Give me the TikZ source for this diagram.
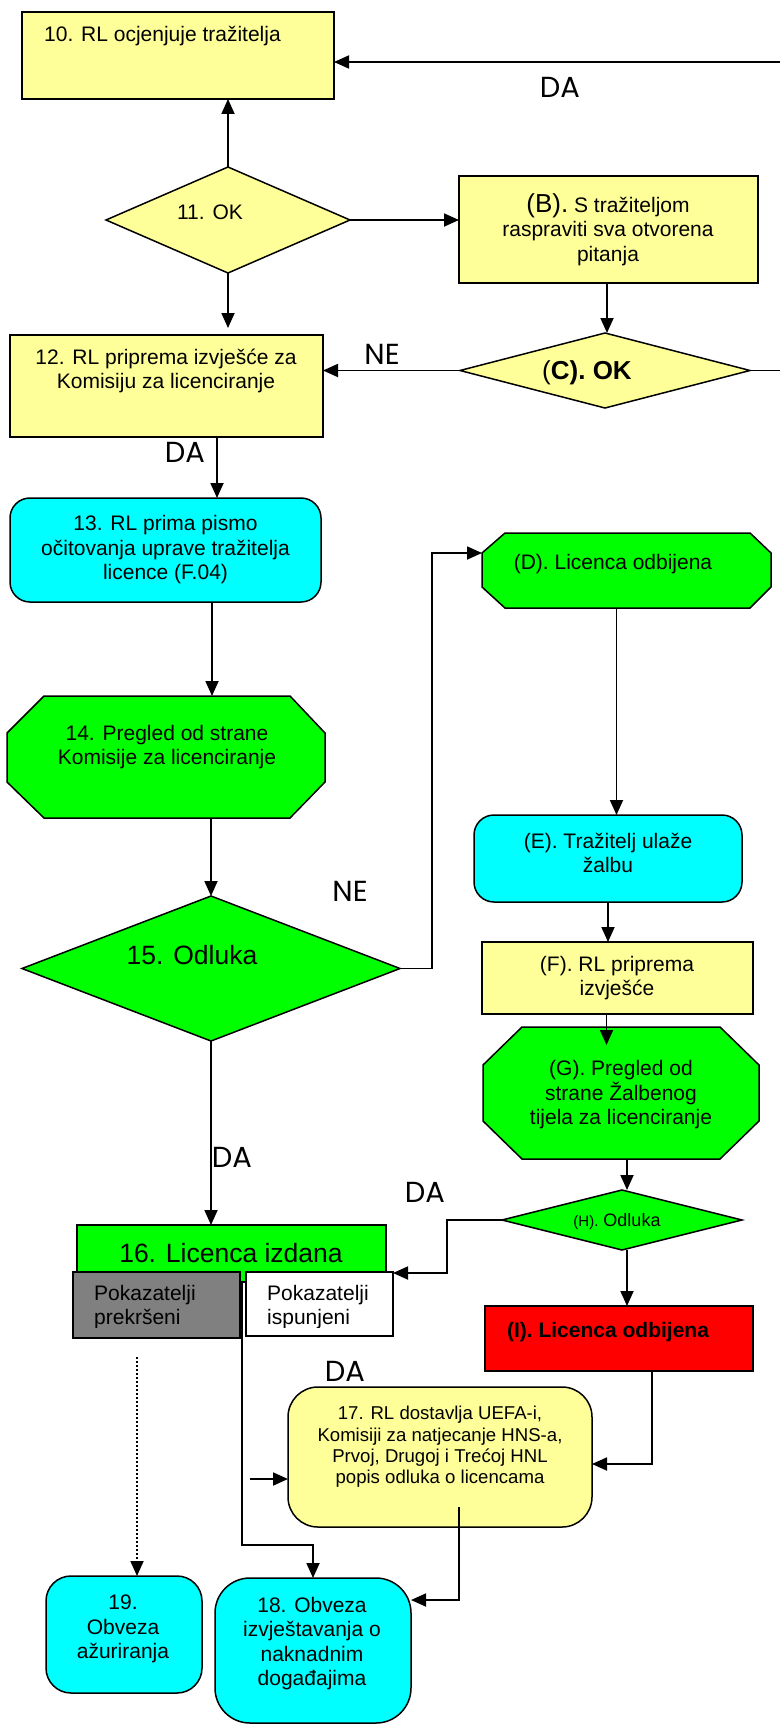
\documentclass[tikz,border=0pt]{standalone}
\usepackage{fontspec}
\setmainfont{Liberation Sans}
\newfontfamily\lblfont{Poppins}
\usetikzlibrary{arrows.meta,shapes.geometric,calc}
\definecolor{cyel}{HTML}{FFFF99}
\definecolor{ccyan}{HTML}{00FFFF}
\definecolor{cgreen}{HTML}{00FF00}
\definecolor{cred}{HTML}{FF0000}
\definecolor{cgray}{HTML}{808080}
\begin{document}
\begin{tikzpicture}[x=1pt,y=-1pt,
  bx/.style={draw=black, line width=1.5pt, inner sep=0pt, outer sep=0pt},
  hold/.style={inner sep=0pt, outer sep=0pt},
  tx/.style={font=\fontsize{21}{24.5}\selectfont, align=center, inner sep=0pt},
  lb/.style={font=\lblfont\fontsize{29}{32}\selectfont, inner sep=0pt},
  arr/.style={line width=1.8pt, -{Triangle[length=15pt,width=13pt]}},
  ln/.style={line width=1.8pt}]
\useasboundingbox[fill=white] (0,0) rectangle (780,1726);

% ---- shapes ----
\node[bx, fill=cyel, minimum width=312pt, minimum height=87pt] (b10) at (178,55.5) {};
\node[bx, diamond, fill=cyel, minimum width=244pt, minimum height=106pt] (d11) at (228,220) {};
\node[bx, fill=cyel, minimum width=299pt, minimum height=107pt] (bB) at (608.5,229.5) {};
\node[bx, fill=cyel, minimum width=313pt, minimum height=102pt] (b12) at (166.5,386) {};
\node[bx, diamond, fill=cyel, minimum width=290pt, minimum height=75pt] (dC) at (605,370.5) {};
\node[bx, fill=ccyan, rounded corners=20pt, minimum width=311pt, minimum height=104pt] (b13) at (165.5,550) {};

\draw[bx, fill=cgreen] (44,696) -- (290,696) -- (325,733) -- (325,782) -- (290,818) -- (44,818) -- (7,782) -- (7,733) -- cycle;
\node[hold, minimum width=318pt, minimum height=122pt] (b14) at (166,757) {};

\draw[bx, fill=cgreen] (505,533) -- (750,533) -- (771,553) -- (771,587) -- (750,608) -- (505,608) -- (482,587) -- (482,553) -- cycle;
\node[hold, minimum width=289pt, minimum height=75pt] (bD) at (626.5,570.5) {};

\node[bx, diamond, fill=cgreen, minimum width=378pt, minimum height=145pt] (d15) at (211,968.5) {};
\node[bx, fill=ccyan, rounded corners=20pt, minimum width=268pt, minimum height=87pt] (bE) at (608,858.5) {};
\node[bx, fill=cyel, minimum width=271pt, minimum height=72pt] (bF) at (617.5,978) {};

\draw[bx, fill=cgreen] (522,1027) -- (720,1027) -- (759,1065) -- (759,1121) -- (720,1159) -- (522,1159) -- (483,1121) -- (483,1065) -- cycle;
\node[hold, minimum width=276pt, minimum height=132pt] (bG) at (621,1093) {};

\node[bx, diamond, fill=cgreen, minimum width=240pt, minimum height=60pt] (dH) at (622,1220) {};
\node[bx, fill=cgreen, minimum width=309pt, minimum height=57pt] (b16) at (231.5,1253.5) {};
\node[bx, fill=cgray, minimum width=167pt, minimum height=66pt] (bP) at (156.5,1305) {};
\node[bx, fill=white, minimum width=147pt, minimum height=64pt] (bS) at (319.5,1304) {};
\node[bx, fill=cred, minimum width=268pt, minimum height=65pt] (bI) at (619,1338.5) {};
\node[bx, fill=cyel, rounded corners=30pt, minimum width=304pt, minimum height=140pt] (b17) at (440,1457) {};
\node[bx, fill=ccyan, rounded corners=25pt, minimum width=156pt, minimum height=117pt] (b19) at (124,1634.5) {};
\node[bx, fill=ccyan, rounded corners=35pt, minimum width=196pt, minimum height=145pt] (b18) at (313,1650.5) {};

% ---- texts ----
\node[tx, anchor=west] (t10) at (44,36) {10. RL ocjenjuje tražitelja};
\node[tx] (t11) at (210,212) {11. OK};
\node[tx] (tB) at (608,229.5) {{\fontsize{26}{24.5}\selectfont(B).} S tražiteljom\\raspraviti sva otvorena\\pitanja};
\node[tx] (t12) at (166,371) {12. RL priprema izvješće za\\Komisiju za licenciranje};
\node[tx, font=\fontsize{26}{30}\selectfont] (tC) at (587,373) {(\textbf{C). OK}};
\node[tx] (t13) at (165.5,550) {13. RL prima pismo\\očitovanja uprave tražitelja\\licence (F.04)};
\node[tx] (t14) at (167,747) {14. Pregled od strane\\Komisije za licenciranje};
\node[tx] (tD) at (613,564) {(D). Licenca odbijena};
\node[tx, font=\fontsize{26.5}{30}\selectfont] (t15) at (192,955) {15. Odluka};
\node[tx] (tE) at (608,853) {(E). Tražitelj ulaže\\žalbu};
\node[tx] (tF) at (617,978) {(F). RL priprema\\izvješće};
\node[tx] (tG) at (621,1095) {(G). Pregled od\\strane Žalbenog\\tijela za licenciranje};
\node[tx, font=\fontsize{18}{21}\selectfont] (tH) at (617,1222) {{\fontsize{15}{18}\selectfont(H).} Odluka};
\node[tx, font=\fontsize{26.5}{30}\selectfont] (t16) at (231,1253) {16. Licenca izdana};
\begin{scope}
  \clip (73,1272) rectangle (393,1327);
  \node[tx, align=left, anchor=west] (tP) at (94,1307) {Pokazatelji\\prekršeni};
  \node[tx, align=left, anchor=west] (tS) at (267,1307) {Pokazatelji\\ispunjeni};
\end{scope}
\node[tx, font=\bfseries\fontsize{21}{24.5}\selectfont] (tI) at (608,1332) {(I). Licenca odbijena};
\node[tx, font=\fontsize{18.6}{21.3}\selectfont] (t17) at (440,1447) {17. RL dostavlja UEFA-i,\\Komisiji za natjecanje HNS-a,\\Prvoj, Drugoj i Trećoj HNL\\popis odluka o licencama};
\node[tx] (t19) at (123,1629) {19.\\Obveza\\ažuriranja};
\node[tx] (t18) at (312,1643.5) {18. Obveza\\izvještavanja o\\naknadnim\\događajima};

% ---- labels ----
\node[lb] (lDA1) at (560,87) {DA};
\node[lb] (lNE1) at (382,354) {NE};
\node[lb] (lDA2) at (185,452) {DA};
\node[lb] (lNE2) at (350,891) {NE};
\node[lb] (lDA3) at (232,1157) {DA};
\node[lb] (lDA4) at (425,1192) {DA};
\node[lb] (lDA5) at (345,1371) {DA};

% ---- connectors ----
\coordinate (eR1) at (780,62);
\coordinate (eR2) at (780,376);
\coordinate (f17) at (250,1479);
\coordinate (f19) at (137,1357);

\draw[arr] (eR1) -- (eR1 -| b10.east);
\draw[arr] (d11.north) -- (d11.north |- b10.south);
\draw[arr] (d11.east) -- (d11.east -| bB.west);
\draw[arr, shorten >=7pt] (d11.south) -- (d11.south |- b12.north);
\draw[arr] ([xshift=-1.5pt]bB.south) -- ([xshift=-1.5pt]bB.south |- dC.north);
\draw[arr] (dC.west) -- (dC.west -| b12.east);
\draw[ln] (dC.east) -- (dC.east -| eR2);
\draw[arr] ([xshift=50.5pt]b12.south) -- ([xshift=50.5pt]b12.south |- b13.north);
\draw[arr] ([xshift=46.5pt]b13.south) -- ([xshift=46.5pt]b13.south |- b14.north);
\draw[arr] (d15.north |- b14.south) -- (d15.north);
\draw[arr] (d15.east) -- ++(32,0) |- ($(bD.north west)+(0,20)$);
\draw[arr] ([xshift=-10pt]bD.south) -- ([xshift=-10pt]bD.south |- bE.north);
\draw[arr] (bE.south) -- (bE.south |- bF.north);
\draw[arr] ([xshift=-11pt]bF.south) -- ++(0,31);
\draw[arr] ([xshift=6pt]bG.south) -- ([xshift=6pt]bG.south |- dH.north);
\draw[arr] (dH.west) -- ++(-55,0) |- ($(bS.north east)+(0,1)$);
\draw[arr] (d15.south) -- (d15.south |- b16.north);
\draw[arr] ([xshift=5pt]dH.south) -- ([xshift=5pt]dH.south |- bI.north);
\draw[arr] ([xshift=33pt]bI.south) |- ([yshift=-7pt]b17.east);
\draw[arr] (f17) -- (f17 -| b17.west);
\draw[arr] ([xshift=19pt,yshift=20pt]b17.south) |- ([yshift=50.5pt]b18.east);
\draw[arr] ([xshift=10.5pt]b16.south) -- ++(0,263) -| (b18.north);
\draw[arr, dash pattern=on 2pt off 2pt] (f19) -- (f19 |- b19.north);
\end{tikzpicture}
\end{document}
